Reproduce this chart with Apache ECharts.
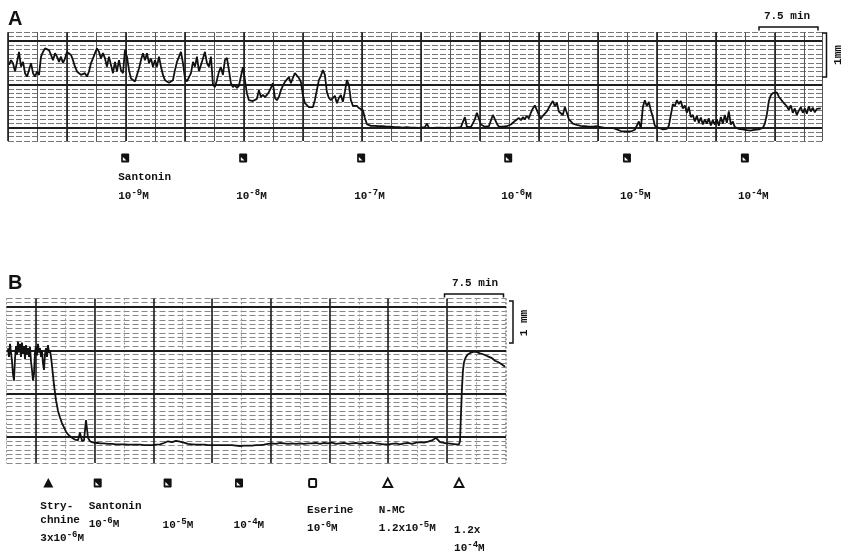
<!DOCTYPE html>
<html><head><meta charset="utf-8">
<script src="https://cdn.jsdelivr.net/npm/echarts@6/dist/echarts.min.js"></script>
<style>html,body{margin:0;padding:0;background:#fff}#c{width:842px;height:554px}</style>
</head><body><div id="c"></div>
<script>
// ---------- DATA ----------
// Panel A: contraction trace (mm deflection vs time in min), sampled uniformly
const A_STEP = 0.2542;            // min per sample
const traceA1_start = 0.13;
const traceA1 = [1.45,1.56,1.49,1.30,1.52,1.75,1.41,1.52,1.26,1.18,1.22,1.49,1.26,1.18,1.30,1.22,1.64,1.75,1.83,1.83,
1.79,1.68,1.56,1.72,1.64,1.52,1.64,1.49,1.60,1.75,1.79,1.68,1.56,1.41,1.30,1.33,1.22,1.18,1.26,1.18,
1.30,1.49,1.60,1.72,1.83,1.75,1.60,1.72,1.60,1.41,1.64,1.45,1.26,1.52,1.30,1.56,1.33,1.26,1.79,1.64,
1.33,1.14,1.10,1.07,1.10,1.37,1.56,1.72,1.56,1.72,1.49,1.60,1.41,1.56,1.41,1.64,1.41,1.22,1.10,1.07,
1.04,1.07,1.10,1.33,1.52,1.56,1.75,1.49,1.14,1.07,1.07,1.26,1.52,1.41,1.64,1.30,1.33,1.60,1.75,1.49,
1.41,1.64,1.00];
const traceA2_start = 26.31;
const traceA2 = [0.94,1.10,1.29,1.40,1.22,1.56,1.61,1.33,1.03,0.94,0.99,0.92,0.97,1.01,1.40,1.10,0.80,0.64,0.64,0.62,
0.64,0.67,0.87,0.71,0.76,0.71,0.76,0.83,0.92,1.03,0.69,0.64,0.71,0.87,0.97,1.06,1.10,1.17,1.03,1.15,
1.26,1.29,1.15,1.06,0.76,0.57,0.53,0.48,0.51,0.48,0.64,0.87,1.10,1.20,1.33,1.22,0.83,0.69,0.64,0.64,
0.74,0.57,0.69,0.76,0.60,0.83,1.10,0.99,0.64,0.51,0.48,0.51,0.46,0.48,0.41,0.23,0.09,0.05,
0.05,0.05,0.05,0.04,0.04,0.04,0.04,0.03,0.03,0.03,0.03,0.02,0.02,0.02,0.02,0.02,0.01,0.01,0.02,0.01,0.01,0.01,0.01,0.00,0.00];
const traceA3_start = 52.50;
const traceA3 = [0.01,0.01,0.02,0.10,0.01,0.01,0.00,0.01,0.01,0.00,0.01,0.01,0.00,0.01,0.01,0.01,0.00,0.01,0.01,0.02,
0.02,0.05,0.25,0.03,0.02,0.02,0.03,0.20,0.35,0.37,0.08,0.04,0.03,0.03,0.04,0.03,0.30,0.34,0.10,0.03,
0.02,0.03,0.03,0.04,0.05,0.08,0.12,0.16,0.14,0.23,0.18,0.25,0.20,0.28,0.22,0.35,0.45,0.52,0.48,0.30,
0.22,0.28,0.25,0.38,0.42,0.55,0.62,0.50,0.58,0.38,0.42,0.30,0.48,0.35,0.20,0.15,0.10,0.12,0.07,0.08,
0.05,0.07,0.04,0.06,0.03,0.05,0.03,0.02,0.04,0.02,0.02,0.01,0.00,0.02,0.00,-0.01,0.00,-0.02,-0.03,-0.05,-0.07];
const traceA4_start = 78.18;
const traceA4 = [-0.08,-0.08,-0.08,-0.08,-0.08,-0.07,-0.04,-0.02,0.15,-0.01,0.48,0.64,0.50,0.60,0.40,0.25,0.05,0.02,0.00,-0.02,
-0.03,-0.04,-0.02,0.05,0.30,0.55,0.50,0.64,0.55,0.62,0.45,0.52,0.35,0.48,0.25,0.30,0.15,0.28,0.12,0.24,
0.08,0.20,0.10,0.22,0.06,0.18,0.08,0.20,0.05,0.25,0.10,0.30,0.12,0.38,0.08,0.15,0.02,0.06,-0.02,0.00,
-0.03,-0.04,-0.05,-0.05,-0.06,-0.05,-0.04,-0.04,-0.03,-0.03,0.00,0.10,0.30,0.62,0.75,0.80,0.78,0.82,0.72,0.66,
0.60,0.55,0.50,0.42,0.52,0.35,0.45,0.30,0.40,0.48,0.35,0.45,0.33,0.50,0.38,0.47,0.36,0.44,0.40,0.45];

// Panel B trace
const traceB1_start = 3.94, traceB1_step = 0.1277;
const traceB1 = [2.05,1.85,2.15,1.95,1.75,1.45,1.30,1.80,2.10,1.90,2.20,1.95,2.15,1.85,2.18,1.92,2.10,1.80,2.12,1.90,
2.05,1.85,2.08,1.75,1.55,1.30,1.45,1.95,2.10,1.88,2.15,1.95,2.05,1.85,2.00,1.70,1.55,1.90,2.05,1.85,
2.12,1.95,2.00,1.85];
const traceB2_start = 9.56, traceB2_step = 0.2555;
const traceB2 = [1.65,1.20,0.85,0.60,0.45,0.32,0.22,0.12,0.06,0.02,-0.02,-0.05,-0.07,-0.08,0.10,-0.09,-0.08,0.39,-0.02,-0.10,
-0.12,-0.13,-0.14,-0.14,-0.15];
const traceB3_start = 16.20, traceB3_step = 0.511;
const traceB3 = [-0.15,-0.16,-0.16,-0.17,-0.17,-0.17,-0.18,-0.18,-0.18,-0.18,-0.19,-0.19,-0.19,-0.18,-0.17,-0.14,-0.10,-0.12,-0.09,-0.11,
-0.13,-0.16,-0.17,-0.18,-0.18,-0.18,-0.19,-0.19,-0.19,-0.19,-0.19,-0.19,-0.19,-0.20,-0.21,-0.20,-0.20,-0.20,-0.19,-0.19,
-0.18,-0.16,-0.15,-0.16,-0.14,-0.15,-0.16,-0.15,-0.16,-0.15,-0.16,-0.15,-0.15,-0.14,-0.16,-0.14,-0.15,-0.13,-0.16,-0.15,
-0.14,-0.16,-0.15,-0.14,-0.16,-0.14,-0.15,-0.13,-0.15,-0.16,-0.17,-0.17,-0.16,-0.15,-0.17,-0.15,-0.14,-0.16,-0.13,-0.12,
-0.13,-0.11,-0.08,-0.02,-0.12,-0.14,-0.15,-0.16,-0.17];
const traceB4_start = 61.42, traceB4_step = 0.1277;
const traceB4 = [-0.17,-0.17,-0.10,0.55,1.15,1.55,1.72,1.80,1.85,1.88,1.91,1.93,1.94,1.95,1.96,1.96,1.97,1.97,1.96,1.96,
1.95,1.94,1.93,1.92,1.90,1.91,1.88,1.87,1.88,1.85,1.84,1.85,1.82,1.81,1.82,1.78,1.79,1.76,1.75,1.74,
1.73,1.72,1.71,1.69,1.68,1.66,1.64,1.62];

// Drug additions (time, min)
const dosesA_time = [14.9, 29.9, 44.9, 63.6, 78.7, 93.7];
const dosesA_exp = ['-9','-8','-7','-6','-5','-4'];
const dosesB_time = [9.09, 15.40, 24.33, 33.45, 42.85, 52.45, 61.55];
const dosesB_symbol = ['triFill','sqIcon','sqIcon','sqIcon','sqOpen','triOpen','triOpen'];

// Grid (chart paper) lines
const majorTimeA = [0,7.5,15,22.5,30,37.5,45,52.5,60,67.5,75,82.5,90,97.5];
const majorTimeB = [7.5,15,22.5,30,37.5,45,52.5,60];
const majorMmA = [0,1,2];
const majorMmB = [0,1,2,3];

// ---------- BUILD ----------
function seg(start, step, arr){ return arr.map((v,i)=>[start + i*step, v]); }
const dataA = [].concat(seg(traceA1_start,A_STEP,traceA1), seg(traceA2_start,A_STEP,traceA2),
                        seg(traceA3_start,A_STEP,traceA3), seg(traceA4_start,A_STEP,traceA4));
const dataB = [].concat(seg(traceB1_start,traceB1_step,traceB1), seg(traceB2_start,traceB2_step,traceB2),
                        seg(traceB3_start,traceB3_step,traceB3), seg(traceB4_start,traceB4_step,traceB4));

const hid = {axisLine:{show:false}, axisTick:{show:false}, axisLabel:{show:false}};
function gridLines(times, mms, vW, hW){
  return {silent:true, symbol:['none','none'], label:{show:false}, animation:false,
    data: times.map(t=>({xAxis:t, lineStyle:{color:'#1e1e1e', width:vW, type:'solid'}}))
      .concat(mms.map(m=>({yAxis:m, lineStyle:{color:'#1e1e1e', width:hW, type:'solid'}})))};
}

const chart = echarts.init(document.getElementById('c'));
chart.setOption({
  animation:false,
  backgroundColor:'#fff',
  grid:[{left:8, top:32.3, width:814, height:108.75},
        {left:6.5, top:298.4, width:499.5, height:164.5}],
  xAxis:[
    Object.assign({gridIndex:0, type:'value', min:0, max:103.5, interval:3.75,
      splitLine:{show:true, lineStyle:{color:'#555', width:1}}}, hid),
    Object.assign({gridIndex:1, type:'value', min:3.75, max:67.55, interval:3.75,
      splitLine:{show:true, lineStyle:{color:'#999', width:1, type:[2,2]}}}, hid)
  ],
  yAxis:[
    Object.assign({gridIndex:0, type:'value', min:-0.3, max:2.2, interval:0.1,
      splitLine:{show:true, lineStyle:{color:'#777', width:1, type:[6,2]}}}, hid),
    Object.assign({gridIndex:1, type:'value', min:-0.6, max:3.2, interval:0.1,
      splitLine:{show:true, lineStyle:{color:'#888', width:1, type:[6,3]}}}, hid)
  ],
  series:[
    {type:'line', xAxisIndex:0, yAxisIndex:0, data:dataA, showSymbol:false, z:1,
      lineStyle:{opacity:0}, markLine:gridLines(majorTimeA, majorMmA, 1.6, 2)},
    {type:'line', xAxisIndex:1, yAxisIndex:1, data:dataB, showSymbol:false, z:1,
      lineStyle:{opacity:0}, markLine:gridLines(majorTimeB, majorMmB, 1.6, 2)},
    {type:'line', xAxisIndex:0, yAxisIndex:0, data:dataA, showSymbol:false, z:5,
      lineStyle:{color:'#111', width:1.8}},
    {type:'line', xAxisIndex:1, yAxisIndex:1, data:dataB, showSymbol:false, z:5,
      lineStyle:{color:'#111', width:1.8}}
  ]
});

// ---------- ANNOTATIONS ----------
const FONT = '"Liberation Mono", "DejaVu Sans Mono", monospace';
const rich = {
  n:{fontFamily:FONT, fontSize:11, fontWeight:'bold', fill:'#111', verticalAlign:'bottom'},
  s:{fontFamily:FONT, fontSize:9, fontWeight:'bold', fill:'#111', verticalAlign:'bottom', padding:[0,0,5,0]}
};
function txt(x, y, t){
  return {type:'text', x:x, y:y, z:100,
    style:{text:t, rich:rich, fontFamily:FONT, fontSize:11, fontWeight:'bold', fill:'#111',
      align:'left', verticalAlign:'middle', textAlign:'left', textVerticalAlign:'middle'}};
}
function ctxt(x, y, t, rot){
  return {type:'text', x:x, y:y, z:100, rotation:rot||0,
    style:{text:t, fontFamily:FONT, fontSize:11, fontWeight:'bold', fill:'#111',
      align:'center', textAlign:'center', verticalAlign:'middle', textVerticalAlign:'middle'}};
}
function conc(pre, exp){ return '{n|' + pre + '10}{s|' + exp + '}{n|M}'; }
function marker(kind, x, y){
  const c = [];
  if (kind === 'sqIcon'){
    c.push({type:'rect', shape:{x:-4,y:-4.5,width:8,height:9,r:1}, style:{fill:'#111'}});
    c.push({type:'polygon', shape:{points:[[-2.3,-1],[-2.3,2.6],[1.3,2.6]]}, style:{fill:'#fff'}});
  } else if (kind === 'sqOpen'){
    c.push({type:'rect', shape:{x:-3.5,y:-4,width:7,height:8,r:1}, style:{fill:'#fff', stroke:'#111', lineWidth:2}});
  } else if (kind === 'triFill'){
    c.push({type:'polygon', shape:{points:[[0,-5],[5,4.5],[-5,4.5]]}, style:{fill:'#111'}});
  } else {
    c.push({type:'polygon', shape:{points:[[0,-4.5],[4.5,4],[-4.5,4]]}, style:{fill:'#fff', stroke:'#111', lineWidth:1.8}});
  }
  return {type:'group', x:x, y:y, z:100, children:c};
}
const px = (ax, t) => chart.convertToPixel({xAxisIndex:ax}, t);
const g = [];
// panel letters
g.push({type:'text', x:8, y:19, style:{text:'A', font:'bold 20px "Liberation Sans", Arial', fill:'#111', verticalAlign:'middle', textVerticalAlign:'middle'}});
g.push({type:'text', x:8, y:283, style:{text:'B', font:'bold 20px "Liberation Sans", Arial', fill:'#111', verticalAlign:'middle', textVerticalAlign:'middle'}});
// scale bars A
g.push({type:'polyline', shape:{points:[[759,30.5],[759,27],[818,27],[818,30.5]]}, style:{stroke:'#111', lineWidth:1.5, fill:null}});
g.push(ctxt(787, 16, '7.5 min'));
g.push({type:'polyline', shape:{points:[[822,33],[826.5,33],[826.5,77],[822,77]]}, style:{stroke:'#111', lineWidth:1.5, fill:null}});
g.push(ctxt(838, 55, '1mm', Math.PI/2));
// scale bars B
g.push({type:'polyline', shape:{points:[[444.5,297.5],[444.5,294],[503.5,294],[503.5,297.5]]}, style:{stroke:'#111', lineWidth:1.5, fill:null}});
g.push(ctxt(475, 283, '7.5 min'));
g.push({type:'polyline', shape:{points:[[509,301],[513,301],[513,343],[509,343]]}, style:{stroke:'#111', lineWidth:1.5, fill:null}});
g.push(ctxt(524, 323, '1 mm', Math.PI/2));

// panel A doses
dosesA_time.forEach((t,i)=>{
  const x = px(0, t);
  g.push(marker('sqIcon', x, 158));
  if (i === 0) g.push(txt(x - 7, 177, 'Santonin'));
  g.push(txt(x - 7, 195, conc('', dosesA_exp[i])));
});
// panel B doses
const bx = dosesB_time.map(t=>px(1, t));
dosesB_symbol.forEach((k,i)=>g.push(marker(k, bx[i], 483)));
g.push(txt(bx[0]-8, 506, 'Stry-'));
g.push(txt(bx[0]-8, 520, 'chnine'));
g.push(txt(bx[0]-8, 537, conc('3x', '-6')));
g.push(txt(bx[1]-9, 506, 'Santonin'));
g.push(txt(bx[1]-9, 523, conc('', '-6')));
g.push(txt(bx[2]-5, 524, conc('', '-5')));
g.push(txt(bx[3]-5.5, 524, conc('', '-4')));
g.push(txt(bx[4]-5.5, 510, 'Eserine'));
g.push(txt(bx[4]-5.5, 527, conc('', '-6')));
g.push(txt(bx[5]-9, 510, 'N-MC'));
g.push(txt(bx[5]-9, 527, conc('1.2x', '-5')));
g.push(txt(bx[6]-5, 530, '1.2x'));
g.push(txt(bx[6]-5, 547, conc('', '-4')));
chart.setOption({graphic:g});
</script>
</body></html>
